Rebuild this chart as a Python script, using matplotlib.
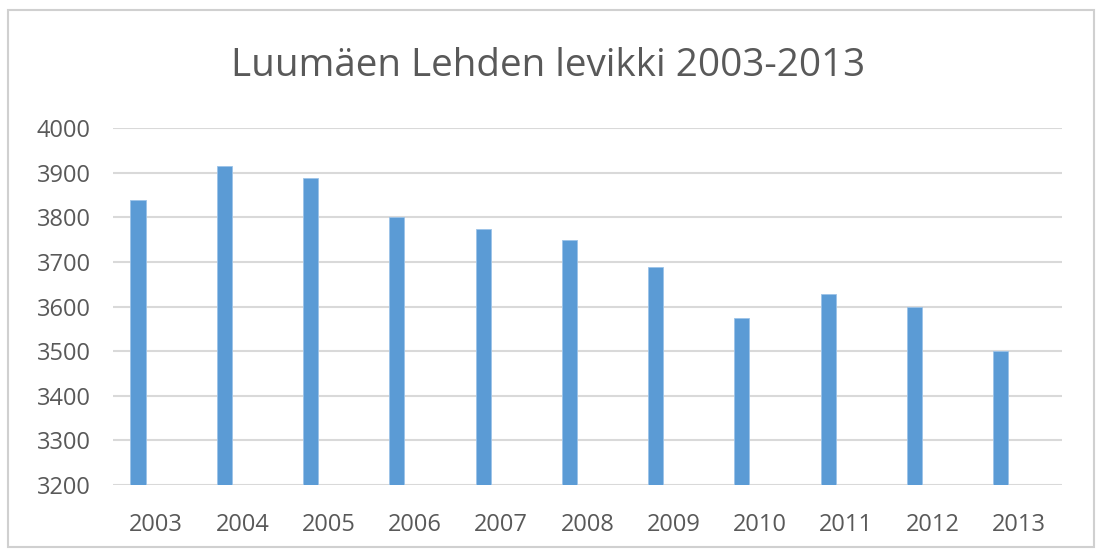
import matplotlib
matplotlib.use("Agg")
import matplotlib.pyplot as plt
from matplotlib.patches import Rectangle
import numpy as np

years = ["2003", "2004", "2005", "2006", "2007", "2008",
         "2009", "2010", "2011", "2012", "2013"]
levikki = [3840, 3915, 3888, 3801, 3774, 3750, 3688, 3574, 3628, 3600, 3500]
yticks = [3200, 3300, 3400, 3500, 3600, 3700, 3800, 3900, 4000]

plt.rcParams["font.family"] = ["Open Sans", "DejaVu Sans"]
text_color = "#595959"

fig = plt.figure(figsize=(10.97, 5.5), dpi=100)
ax = fig.add_axes([0.103, 0.118, 0.865, 0.649])

x = np.arange(len(years))
ax.bar(x - 0.21, levikki, width=0.175, color="#5b9bd5",
       edgecolor="#9cc3e8", linewidth=0.6, zorder=3)

ax.set_xlim(-0.5, len(years) - 0.5)
ax.set_ylim(3200, 4000)
ax.set_yticks(yticks)
ax.set_yticklabels([str(v) for v in yticks])
ax.set_xticks(x)
ax.set_xticklabels(years)
ax.tick_params(axis="y", length=0, pad=16, labelsize=17, labelcolor=text_color)
ax.tick_params(axis="x", length=0, pad=20, labelsize=17, labelcolor=text_color)
ax.grid(axis="y", color="#d9d9d9", linewidth=1.5, zorder=0)
for s in ax.spines.values():
    s.set_visible(False)

fig.text(0.5, 0.88, "Luumäen Lehden levikki 2003-2013", ha="center",
         va="center", fontsize=27.8, color=text_color)

# chart area border
fig.patches.append(Rectangle((0.007, 0.005), 0.99, 0.976, transform=fig.transFigure,
                             fill=False, edgecolor="#d0d0d0", linewidth=1.5))

fig.savefig("out.png", dpi=100)
